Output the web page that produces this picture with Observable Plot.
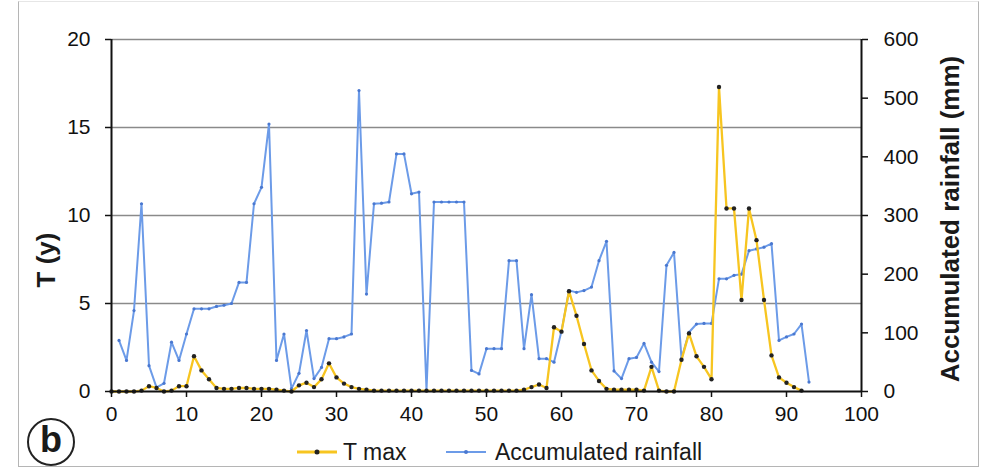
<!DOCTYPE html>
<html>
<head>
<meta charset="utf-8">
<script src="https://cdn.jsdelivr.net/npm/d3@7"></script>
<script src="https://cdn.jsdelivr.net/npm/@observablehq/plot@0.6"></script>
<style>
  html, body { margin: 0; padding: 0; background: #fff; }
  #wrap { position: relative; width: 987px; height: 471px; font-family: "Liberation Sans", Arial, sans-serif; color: #1a1a1a; overflow: hidden; }
  #frame { position: absolute; left: 18px; top: 1px; width: 961px; height: 466px; border: 1.5px solid #b5b5b5; box-sizing: border-box; border-top-color: #e6e6e6; }
  .ytitle { position: absolute; font-weight: bold; font-size: 26px; white-space: nowrap; transform: translate(-50%, -50%) rotate(-90deg); }
  #legend { position: absolute; top: 452px; left: 0; font-size: 23px; }
  .lg { position: absolute; transform: translateY(-50%); white-space: nowrap; }
  .sw { position: absolute; height: 3px; transform: translateY(-50%); }
  .sd { position: absolute; border-radius: 50%; transform: translate(-50%, -50%); }
  #blabel { position: absolute; left: 27px; top: 418px; width: 48px; height: 48px; border: 2.5px solid #222; border-radius: 50%; box-sizing: border-box; font-weight: bold; font-size: 36px; text-align: center; line-height: 40px; }
</style>
</head>
<body>
<div id="wrap">
  <div id="frame"></div>
  <div id="plot"></div>
  <div class="ytitle" style="left:46px; top:260px;">T (y)</div>
  <div class="ytitle" style="left:950px; top:219px;">Accumulated rainfall (mm)</div>
  <div id="legend">
    <div class="sw" style="left:297px; top:0; width:40px; background:#f7c520;"></div>
    <div class="sd" style="left:317px; top:0; width:5px; height:5px; background:#222;"></div>
    <div class="lg" style="left:343px; top:0;">T max</div>
    <div class="sw" style="left:446px; top:0; width:40px; background:#6c9be8; height:2px;"></div>
    <div class="sd" style="left:466px; top:0; width:4px; height:4px; background:#4a78d0;"></div>
    <div class="lg" style="left:495px; top:0;">Accumulated rainfall</div>
  </div>
  <div id="blabel">b</div>
</div>
<script>
// ---- data ----
const tDays = [0,1,2,3,4,5,6,7,8,9,10,11,12,13,14,15,16,17,18,19,20,21,22,23,24,25,26,27,28,29,30,31,32,33,34,35,36,37,38,39,40,41,42,43,44,45,46,47,48,49,50,51,52,53,54,55,56,57,58,59,60,61,62,63,64,65,66,67,68,69,70,71,72,73,74,75,76,77,78,79,80,81,82,83,84,85,86,87,88,89,90,91,92];
const tMax = [0,0,0,0,0.05,0.3,0.2,0,0.05,0.3,0.3,2.0,1.2,0.7,0.2,0.15,0.15,0.2,0.2,0.15,0.15,0.15,0.1,0.05,0,0.35,0.5,0.25,0.7,1.6,0.8,0.45,0.25,0.15,0.1,0.05,0.05,0.05,0.05,0.05,0.05,0.05,0.05,0.05,0.05,0.05,0.05,0.05,0.05,0.05,0.05,0.05,0.05,0.05,0.05,0.1,0.25,0.4,0.2,3.65,3.4,5.7,4.3,2.7,1.2,0.6,0.15,0.1,0.1,0.1,0.1,0.05,1.4,0.05,0,0,1.8,3.3,2.0,1.4,0.7,17.3,10.4,10.4,5.2,10.4,8.6,5.2,2.05,0.8,0.5,0.25,0.05];
const rainDays = [1,2,3,4,5,6,7,8,9,10,11,12,13,14,15,16,17,18,19,20,21,22,23,24,25,26,27,28,29,30,31,32,33,34,35,36,37,38,39,40,41,42,43,44,45,46,47,48,49,50,51,52,53,54,55,56,57,58,59,60,61,62,63,64,65,66,67,68,69,70,71,72,73,74,75,76,77,78,79,80,81,82,83,84,85,86,87,88,89,90,91,92,93];
const rainMm = [87,53,138,320,44,7,14,84,53,98,141,141,141,145,147,150,186,186,320,348,456,53,98,5,31,104,22,41,90,90,93,98,513,166,320,321,323,405,405,337,340,2,323,323,323,323,323,36,30,73,73,73,223,223,73,165,56,56,50,103,172,169,172,178,223,256,35,22,56,58,82,50,34,215,237,56,101,115,116,116,192,192,198,200,240,243,246,252,87,93,98,115,16];
const xTicks = [0,10,20,30,40,50,60,70,80,90,100];
const tTicks = [0,5,10,15,20];
const gridT = [5,10,15,20];
const rainTicks = [0,100,200,300,400,500,600];
const rainPerT = 30; // 600 mm on the right axis = 20 y on the left axis

const tData = tDays.map((d, i) => ({day: d, t: tMax[i]}));
const rainData = rainDays.map((d, i) => ({day: d, t: rainMm[i] / rainPerT}));

const chart = Plot.plot({
  width: 987,
  height: 471,
  marginLeft: 111,
  marginRight: 126,
  marginTop: 39,
  marginBottom: 80,
  style: {fontFamily: "'Liberation Sans', Arial, sans-serif", fontSize: "21px", color: "#111", background: "transparent"},
  x: {domain: [0, 100]},
  y: {domain: [0, 20]},
  marks: [
    Plot.ruleY(gridT, {stroke: "#8a8a8a", strokeWidth: 1.6}),
    Plot.line(rainData, {x: "day", y: "t", stroke: "#6c9be8", strokeWidth: 2}),
    Plot.dot(rainData, {x: "day", y: "t", r: 1.6, fill: "#4a78d0", stroke: "none"}),
    Plot.line(tData, {x: "day", y: "t", stroke: "#f7c520", strokeWidth: 2.3}),
    Plot.dot(tData, {x: "day", y: "t", r: 2.2, fill: "#222", stroke: "none"}),
    Plot.axisX({ticks: xTicks, tickSize: 6, tickPadding: 9, label: null, stroke: "#111", strokeWidth: 1.5}),
    Plot.axisY({anchor: "left", ticks: tTicks, tickSize: 6, tickPadding: 15, label: null, strokeWidth: 1.5}),
    Plot.axisY({anchor: "right", ticks: rainTicks.map(v => v / rainPerT), tickFormat: d => Math.round(d * rainPerT), tickSize: 6, tickPadding: 16, label: null, strokeWidth: 1.5}),
    Plot.ruleX([0, 100], {stroke: "#111", strokeWidth: 2}),
    Plot.ruleY([0], {stroke: "#111", strokeWidth: 2})
  ]
});
document.getElementById("plot").appendChild(chart);
</script>
</body>
</html>
